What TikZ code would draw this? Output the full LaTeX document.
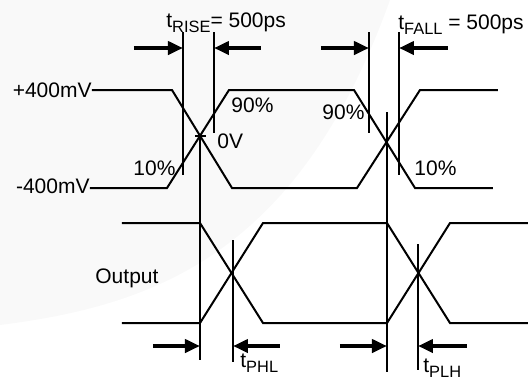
\documentclass[tikz,border=0pt]{standalone}
\usepackage{fontspec}
\setmainfont{Liberation Sans}
\usepackage{tikz}
\usetikzlibrary{arrows.meta}
\tikzstyle{wave} = [line width=1pt]
\tikzstyle{marker} = [line width=1pt]
\tikzstyle{arrow} = [line width=2pt, -{Triangle[length=7.5pt,width=6.5pt]}]
\tikzstyle{lbl} = [inner sep=0pt, font=\fontsize{10.5}{12}\selectfont]
\newcommand{\lowtxt}[1]{\raisebox{-0.28em}{\fontsize{8.2}{9}\selectfont #1}}

\begin{document}
\begin{tikzpicture}[x=0.5pt, y=-0.5pt]
        \useasboundingbox (0,0) rectangle (532,382);
        \fill[gray!5] (0,0) -- (0,325) .. controls (160,305) and (300,250) .. (390,0) -- cycle;

        % input waveform
        \draw[wave] (92,90) -- (172,90) -- (232,188) -- (357,188) -- (420,90) -- (498,90);
        \draw[wave] (90,188) -- (167,188) -- (229,90) -- (354,90) -- (415,188) -- (493,188);

        % output waveform
        \draw[wave] (122,223) -- (200,223) -- (263,323) -- (387,323) -- (450,223) -- (528,223);
        \draw[wave] (122,323) -- (200,323) -- (263,223) -- (387,223) -- (450,323) -- (528,323);

        % marker lines
        \coordinate (R1t) at (183,32);  \coordinate (R1b) at (183,175);
        \coordinate (R2t) at (214,32);  \coordinate (R2b) at (214,133);
        \coordinate (F1t) at (369,32);  \coordinate (F1b) at (369,133);
        \coordinate (F2t) at (399,32);  \coordinate (F2b) at (399,175);
        \coordinate (Z1t) at (200,135.5); \coordinate (Z1b) at (200,360);
        \coordinate (Z2t) at (387,112); \coordinate (Z2b) at (387,372);
        \coordinate (PHLt) at (233,240); \coordinate (PHLb) at (233,362);
        \coordinate (PLHt) at (418,244); \coordinate (PLHb) at (418,370);

        \draw[marker] (R1t) -- (R1b);
        \draw[marker] (R2t) -- (R2b);
        \draw[marker] (F1t) -- (F1b);
        \draw[marker] (F2t) -- (F2b);
        \draw[marker] (Z1t) -- (Z1b);
        \draw[marker] (Z2t) -- (Z2b);
        \draw[marker] (PHLt) -- (PHLb);
        \draw[marker] (PLHt) -- (PLHb);
        \draw[marker] (195,135.5) -- (206,135.5);

        % timing arrows
        \coordinate (aR1) at (134,48);  \coordinate (aR2) at (261,48);
        \coordinate (aF1) at (321,48);  \coordinate (aF2) at (448,48);
        \coordinate (aPHL1) at (153,346); \coordinate (aPHL2) at (280,346);
        \coordinate (aPLH1) at (340,346); \coordinate (aPLH2) at (467,346);

        \draw[arrow] (aR1) -- (R1t |- aR1);
        \draw[arrow] (aR2) -- (R2t |- aR2);
        \draw[arrow] (aF1) -- (F1t |- aF1);
        \draw[arrow] (aF2) -- (F2t |- aF2);
        \draw[arrow] (aPHL1) -- (Z1t |- aPHL1);
        \draw[arrow] (aPHL2) -- (PHLt |- aPHL2);
        \draw[arrow] (aPLH1) -- (Z2t |- aPLH1);
        \draw[arrow] (aPLH2) -- (PLHt |- aPLH2);

        % labels
        \node (tR) [lbl, anchor=base west] at (166,27) {t\lowtxt{RISE}= 500ps};
        \node (tF) [lbl, anchor=base west] at (398,29) {t\lowtxt{FALL} = 500ps};
        \node (Vp) [lbl, anchor=base east] at (92,97) {+400mV};
        \node (Vn) [lbl, anchor=base east] at (90,193) {-400mV};
        \node (p90a) [lbl, anchor=base west] at (231,112) {90\%};
        \node (p90b) [lbl, anchor=base west] at (322,119) {90\%};
        \node (p10a) [lbl, anchor=base west] at (133,175) {10\%};
        \node (p10b) [lbl, anchor=base west] at (414,175) {10\%};
        \node (zv) [lbl, anchor=base west] at (217,148) {0V};
        \node (out) [lbl, anchor=base west] at (95,283) {Output};
        \node (tPHL) [lbl, anchor=base west] at (240,367) {t\lowtxt{PHL}};
        \node (tPLH) [lbl, anchor=base west] at (423,372) {t\lowtxt{PLH}};

    \end{tikzpicture}
\end{document}
